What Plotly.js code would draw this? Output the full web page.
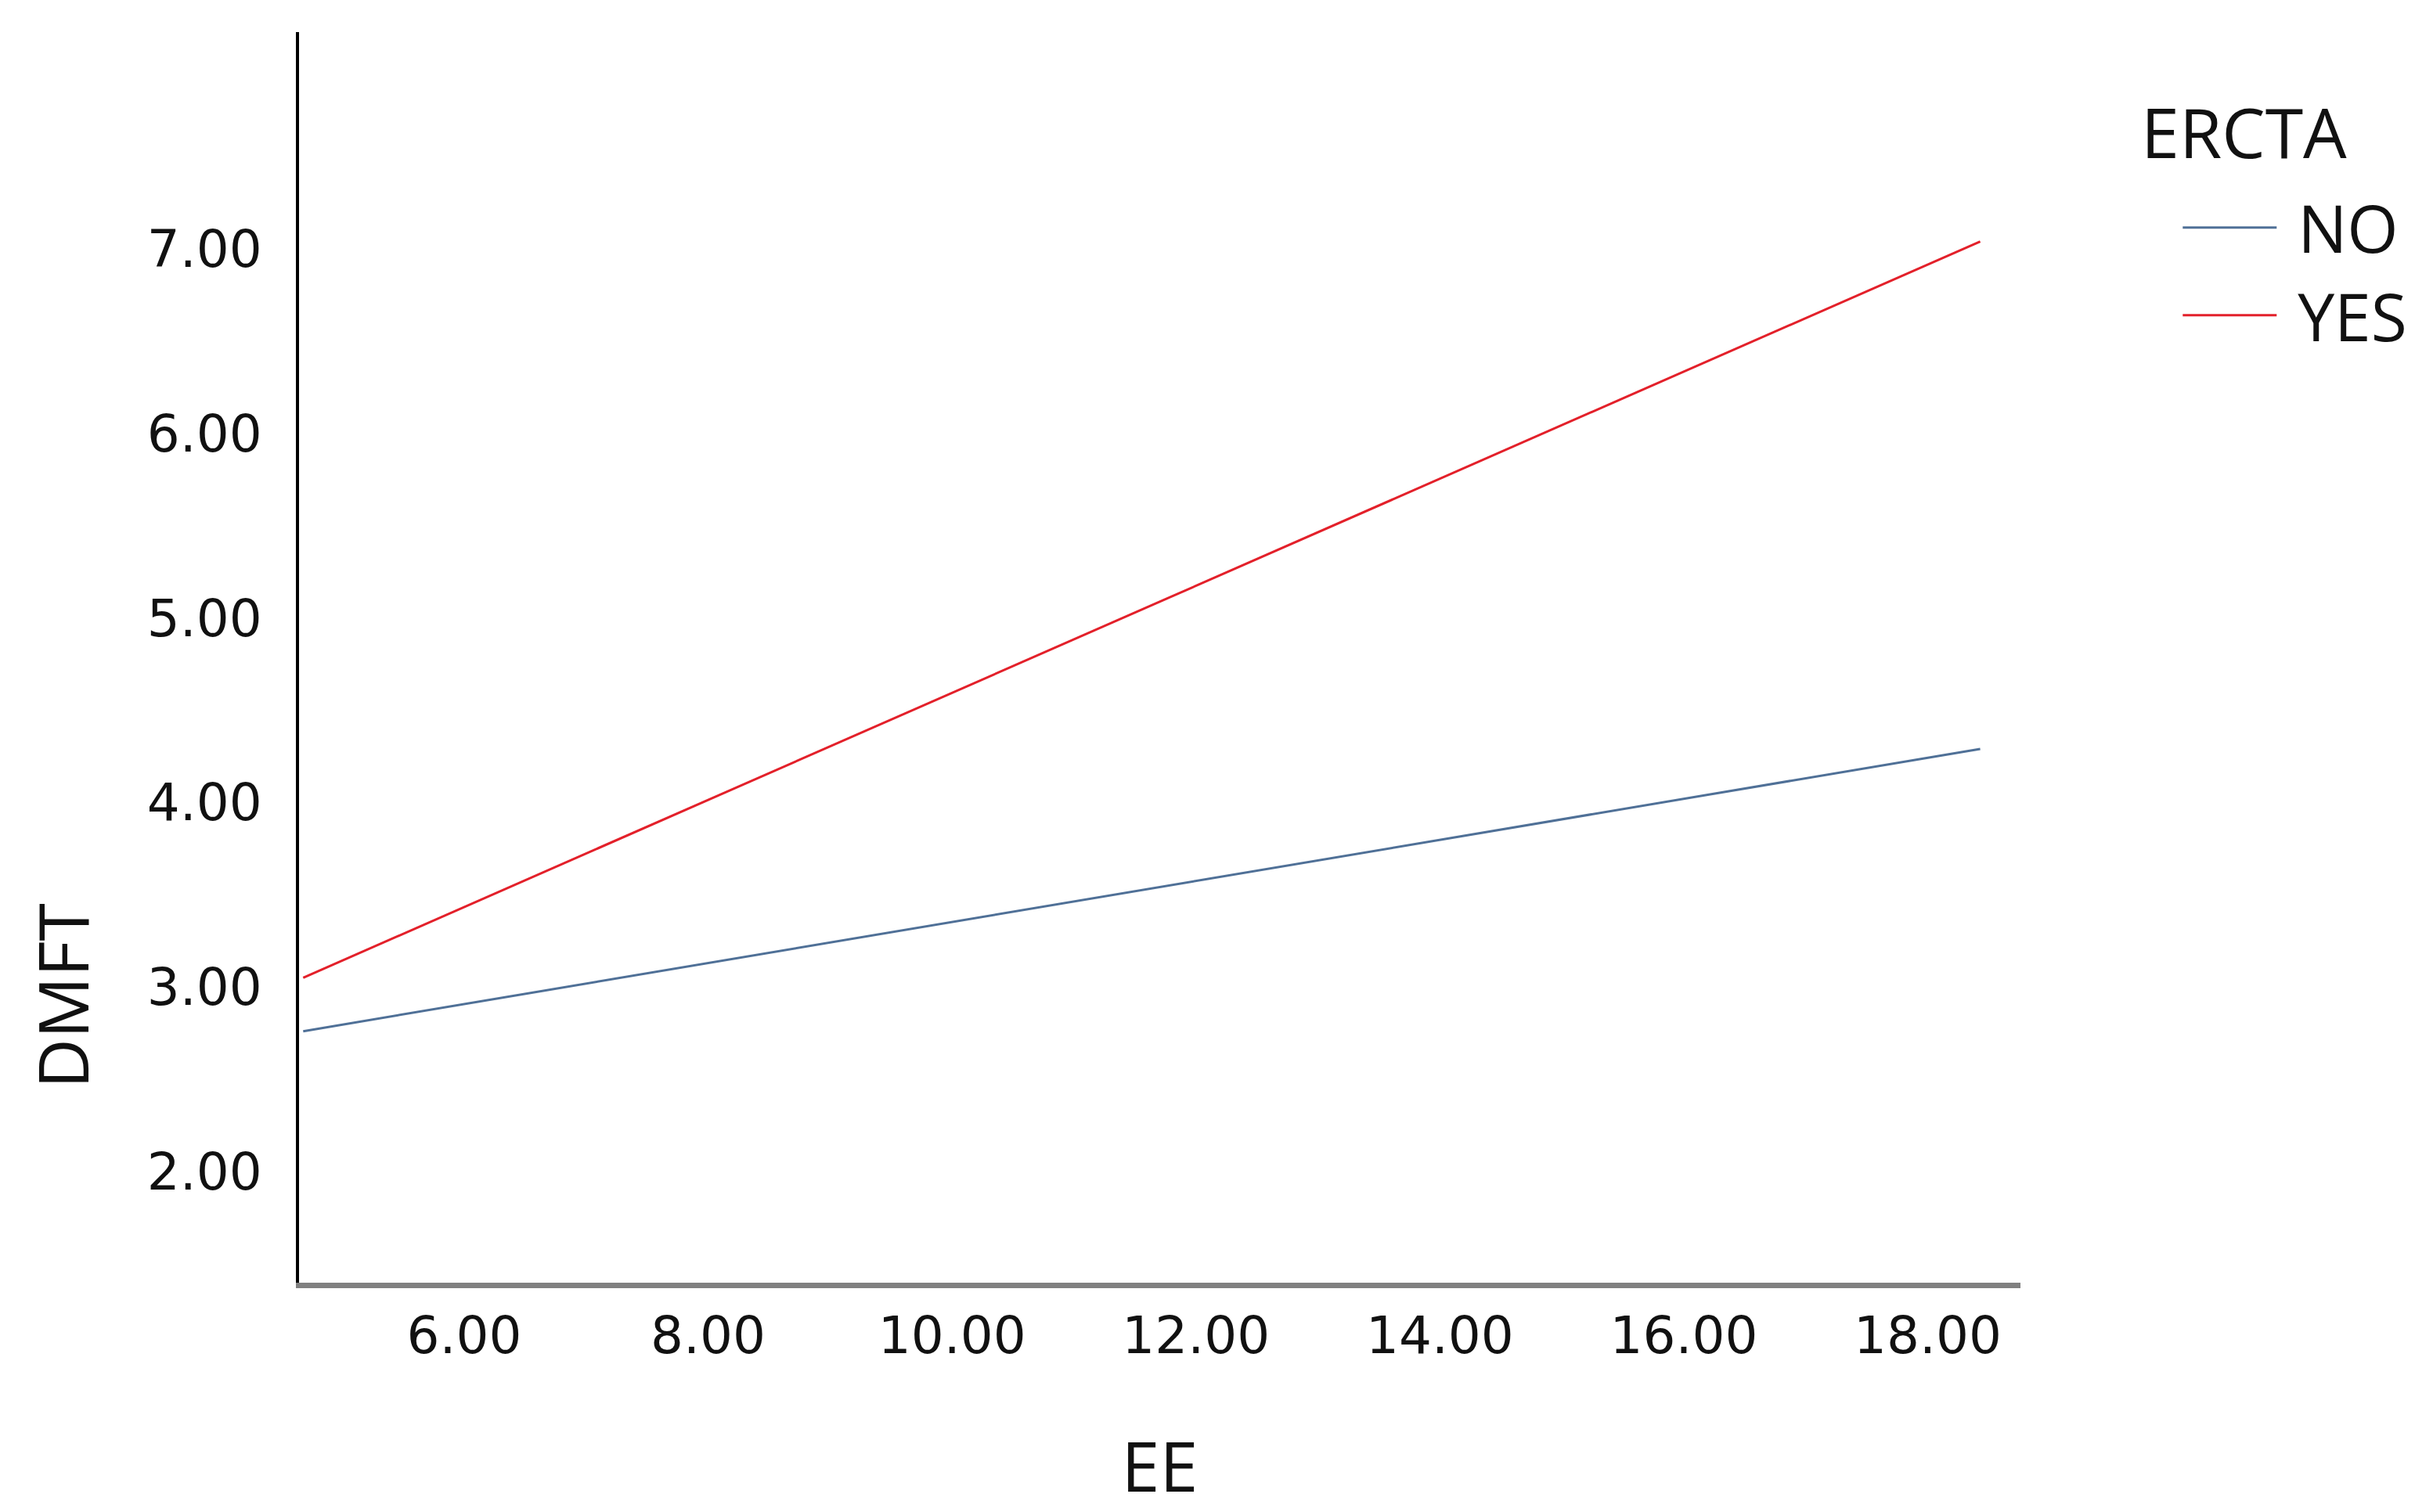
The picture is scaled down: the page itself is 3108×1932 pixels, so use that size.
<!DOCTYPE html>
<html>
<head>
<meta charset="utf-8">
<script src="https://cdn.plot.ly/plotly-3.0.1.min.js"></script>
<style>
  html, body { margin: 0; padding: 0; background: #fff; }
  #chart { width: 3108px; height: 1932px; }
</style>
</head>
<body>
<div id="chart"></div>
<script>
// fit lines of DMFT on EE, split by ERCTA
const groups = ['NO', 'YES'];
const eeRange = [4.68, 18.43];
const dmftNo = [2.76, 4.29];
const dmftYes = [3.05, 7.04];
const lineColors = ['#4f7097', '#e3202a'];

const xTicks = [6, 8, 10, 12, 14, 16, 18];
const yTicks = [2, 3, 4, 5, 6, 7];
const fmt = v => v.toFixed(2);

const tickFont = { family: 'DejaVu Sans', size: 66, color: '#111' };
const titleFont = { family: 'Open Sans', size: 88, color: '#111' };
const legendFont = { family: 'Open Sans', size: 84, color: '#111' };

const traces = [dmftNo, dmftYes].map((vals, i) => ({
    x: eeRange,
    y: vals,
    type: 'scatter',
    mode: 'lines',
    // small gap between legend line and its label
    name: '\u00a0' + groups[i],
    line: { color: lineColors[i], width: 3 },
    hoverinfo: 'skip'
}));

const layout = {
    width: 3108,
    height: 1932,
    margin: { l: 382, r: 527, t: 41, b: 293 },
    paper_bgcolor: '#fff',
    plot_bgcolor: '#fff',
    showlegend: true,
    legend: {
        x: 1.092, xanchor: 'left',
        y: 0.882, yanchor: 'top',
        font: legendFont,
        itemwidth: 120,
        bgcolor: 'rgba(0,0,0,0)',
        borderwidth: 0
    },
    annotations: [
        {   // legend heading
            text: 'ERCTA', font: titleFont, showarrow: false,
            xref: 'paper', yref: 'paper', x: 1.069, y: 0.9205,
            xanchor: 'left', yanchor: 'middle'
        },
        {   // y axis title sits low, near the 3.00 tick, as in the original
            text: 'DMFT', font: titleFont, showarrow: false, textangle: -90,
            xref: 'paper', yref: 'paper', x: -0.1378, y: 0.2297,
            xanchor: 'center', yanchor: 'middle'
        }
    ],
    xaxis: {
        range: [4.646, 18.76],
        tickvals: xTicks,
        ticktext: xTicks.map(fmt),
        tickfont: tickFont,
        ticks: '',
        ticklabelstandoff: 4,
        showgrid: false,
        zeroline: false,
        showline: true,
        linecolor: '#808080',
        linewidth: 7,
        title: { text: 'EE', font: titleFont, standoff: 110 }
    },
    yaxis: {
        range: [1.397, 8.175],
        tickvals: yTicks,
        ticktext: yTicks.map(fmt),
        tickfont: tickFont,
        ticks: '',
        ticklabelstandoff: 30,
        showgrid: false,
        zeroline: false,
        showline: true,
        linecolor: '#000',
        linewidth: 4
    }
};

Plotly.newPlot('chart', traces, layout, { displayModeBar: false, staticPlot: true });
</script>
</body>
</html>
